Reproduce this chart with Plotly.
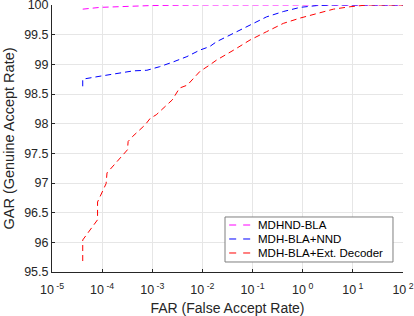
import plotly.graph_objects as go

series_names = ["MDHND-BLA", "MDH-BLA+NND", "MDH-BLA+Ext. Decoder"]
series_colors = ["#ff00ff", "#0000ff", "#ff0000"]

mag_far = [4.1e-5, 9.1e-5, 9.1e-4, 8.9e-3, 100]
mag_gar = [99.93, 99.96, 99.99, 100.0, 100.0]

blue_far = [4.1e-5, 4.1e-5, 9.1e-5, 1.95e-4, 4.2e-4, 7.8e-4, 1.4e-3, 2.6e-3, 4.9e-3,
            8.9e-3, 1.4e-2, 1.9e-2, 4.2e-2, 8.9e-2, 0.19, 0.41, 0.89, 1.9, 4.1, 100]
blue_gar = [98.63, 98.75, 98.80, 98.84, 98.89, 98.90, 98.96, 99.04, 99.13,
            99.24, 99.30, 99.38, 99.52, 99.66, 99.80, 99.89, 99.96, 99.99, 100.0, 100.0]

red_far = [4.1e-5, 4.1e-5, 8.1e-5, 8.1e-5, 1.2e-4, 1.25e-4, 3.2e-4, 3.3e-4, 4.0e-4,
           7.2e-4, 9.1e-4, 1.2e-3, 2.5e-3, 3.5e-3, 5.0e-3, 8.9e-3, 1.4e-2, 1.9e-2,
           4.2e-2, 8.9e-2, 0.19, 0.41, 0.89, 1.9, 4.1, 8.7, 19, 100]
red_gar = [95.685, 96.04, 96.38, 96.68, 96.99, 97.17, 97.56, 97.70, 97.78,
           97.98, 98.09, 98.15, 98.40, 98.60, 98.65, 98.88, 98.99, 99.07,
           99.24, 99.41, 99.55, 99.69, 99.78, 99.86, 99.93, 99.97, 100.0, 100.0]

x_tickvals = [1e-5, 1e-4, 1e-3, 1e-2, 1e-1, 1e0, 1e1, 1e2]
x_ticktext = ["10<sup> -5</sup>", "10<sup> -4</sup>", "10<sup> -3</sup>", "10<sup> -2</sup>",
              "10<sup> -1</sup>", "10<sup> 0</sup>", "10<sup> 1</sup>", "10<sup> 2</sup>"]
y_tickvals = [95.5, 96, 96.5, 97, 97.5, 98, 98.5, 99, 99.5, 100]
y_ticktext = ["95.5", "96", "96.5", "97", "97.5", "98", "98.5", "99", "99.5", "100"]

DASH = "6px,4px"
fig = go.Figure()
for name, color, xs, ys in zip(series_names, series_colors,
                               [mag_far, blue_far, red_far], [mag_gar, blue_gar, red_gar]):
    fig.add_trace(go.Scatter(x=xs, y=ys, mode="lines", name=name, showlegend=False,
                             line=dict(color=color, width=1, dash=DASH)))

# legend box drawn in paper coordinates (compact, MATLAB style)
leg_x0, leg_x1, leg_y0, leg_y1 = 0.4929, 0.9715, 0.0375, 0.206
row_y = [0.176, 0.1236, 0.0712]
sym_x0, sym_x1, txt_x = 0.5048, 0.5661, 0.5812
shapes = [dict(type="rect", xref="paper", yref="paper", x0=leg_x0, x1=leg_x1,
               y0=leg_y0, y1=leg_y1, line=dict(color="#7f7f7f", width=1),
               fillcolor="white", layer="above")]
annotations = []
for name, color, yy in zip(series_names, series_colors, row_y):
    shapes.append(dict(type="line", xref="paper", yref="paper", x0=sym_x0, x1=sym_x1,
                       y0=yy, y1=yy, line=dict(color=color, width=1, dash="7px,7px"),
                       layer="above"))
    annotations.append(dict(xref="paper", yref="paper", x=txt_x, y=yy, text=name,
                            showarrow=False, xanchor="left", yanchor="middle",
                            font=dict(size=11.5, color="#000000")))

font_family = "Liberation Sans, Arial, sans-serif"
fig.update_layout(
    width=414, height=316,
    margin=dict(l=52, r=11, t=5, b=44),
    paper_bgcolor="white", plot_bgcolor="white",
    font=dict(family=font_family, size=12.5, color="#262626"),
    showlegend=False,
    shapes=shapes, annotations=annotations,
)
fig.update_xaxes(type="log", range=[-5, 2], tickvals=x_tickvals, ticktext=x_ticktext,
                 showgrid=True, gridcolor="#e6e6e6", gridwidth=1,
                 showline=True, linecolor="#262626", linewidth=1,
                 ticks="inside", ticklen=3, tickcolor="#262626",
                 zeroline=False, mirror=False, automargin=False,
                 ticklabeloverflow="allow", ticklabelstandoff=6,
                 title=dict(text="FAR (False Accept Rate)", font=dict(size=14), standoff=8))
fig.update_yaxes(range=[95.5, 100], tickvals=y_tickvals, ticktext=y_ticktext,
                 showgrid=True, gridcolor="#e6e6e6", gridwidth=1,
                 showline=True, linecolor="#262626", linewidth=1,
                 ticks="inside", ticklen=3, tickcolor="#262626",
                 zeroline=False, mirror=False, automargin=False,
                 ticklabeloverflow="allow",
                 title=dict(text="GAR (Genuine Accept Rate)", font=dict(size=14.5), standoff=6))

fig.write_html("out.html", config={"displayModeBar": False},
               post_script="document.body.style.margin='0';document.body.style.padding='0';")
